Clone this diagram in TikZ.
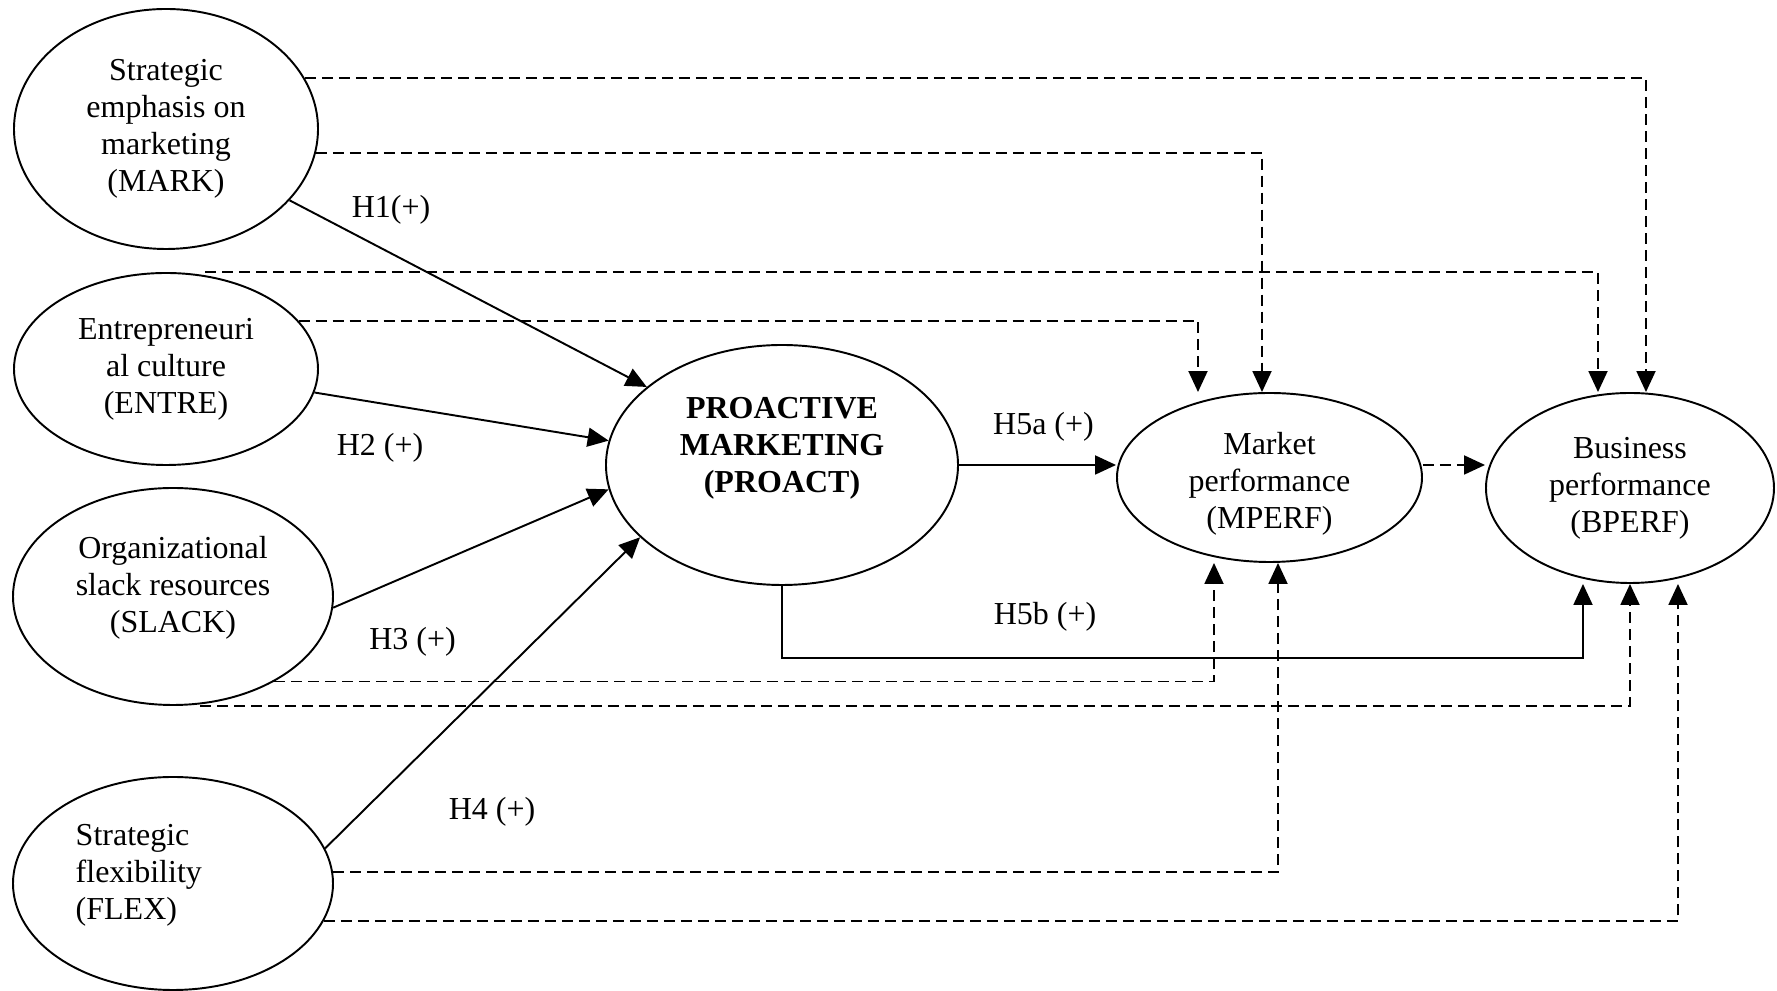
\documentclass[tikz,border=0pt]{standalone}
\usepackage{fontspec}
\setmainfont{Liberation Serif}
\usetikzlibrary{arrows.meta, shapes.geometric}

\begin{document}
\begin{tikzpicture} [construct/.style = {draw, ellipse, line width=0.55pt, inner sep=0pt},
        caption/.style = {inner sep=0pt, align=center, font=\fontsize{9.1}{10.5}\selectfont},
        hyp/.style = {-{Triangle[length=0.21cm, width=0.19cm]}, line width=0.55pt},
        ctl/.style = {hyp, dash pattern=on 0.11cm off 0.06cm}]
        \useasboundingbox (0,0) rectangle (17.77,-9.91);

        \node (mark) [construct, minimum width=3.04cm, minimum height=2.40cm] at (1.66,-1.29) {};
        \node (entre) [construct, minimum width=3.04cm, minimum height=1.92cm] at (1.66,-3.69) {};
        \node (slack) [construct, minimum width=3.20cm, minimum height=2.17cm] at (1.73,-5.965) {};
        \node (flex) [construct, minimum width=3.20cm, minimum height=2.13cm] at (1.73,-8.835) {};
        \node (proact) [construct, minimum width=3.52cm, minimum height=2.40cm] at (7.82,-4.65) {};
        \node (mperf) [construct, minimum width=3.05cm, minimum height=1.69cm] at (12.695,-4.775) {};
        \node (bperf) [construct, minimum width=2.88cm, minimum height=1.90cm] at (16.30,-4.88) {};

        \node (markt) [caption] at (mark) {Strategic\\emphasis on\\marketing\\(MARK)};
        \node (entret) [caption] at (entre) {Entrepreneuri\\al culture\\(ENTRE)};
        \node (slackt) [caption] at ([yshift=0.09cm]slack) {Organizational\\slack resources\\(SLACK)};
        \node (flext) [caption, align=left, anchor=west] at ([xshift=0.63cm, yshift=0.08cm]flex.west) {Strategic\\flexibility\\(FLEX)};
        \node (proactt) [caption, font=\fontsize{9.1}{10.5}\selectfont\bfseries] at ([yshift=0.17cm]proact) {PROACTIVE\\MARKETING\\(PROACT)};
        \node (mperft) [caption] at ([yshift=-0.065cm]mperf) {Market\\performance\\(MPERF)};
        \node (bperft) [caption] at (bperf) {Business\\performance\\(BPERF)};

        \node (h1) [caption] at (3.91,-2.10) {H1(+)};
        \node (h2) [caption] at (3.80,-4.475) {H2 (+)};
        \node (h3) [caption] at (4.125,-6.415) {H3 (+)};
        \node (h4) [caption] at (4.92,-8.12) {H4 (+)};
        \node (h5a) [caption] at (10.435,-4.265) {H5a (+)};
        \node (h5b) [caption] at (10.45,-6.165) {H5b (+)};

        \draw [hyp] (mark.-30) -- (proact.150);
        \draw [hyp] (entre.-9) -- (proact.172);
        \draw [hyp] (slack.-4) -- (proact.188);
        \draw [hyp] (flex.13) -- (proact.207);
        \draw [hyp] (proact.east) -- (proact.east -| mperf.west);
        \draw [hyp] (proact.south) -- ++(0,-0.72) -| ([xshift=-0.47cm]bperf.south);

        \draw [ctl] (mark.20) -| ([xshift=0.16cm]bperf.north);
        \draw [ctl] (mark.-9) -| ([xshift=-0.075cm]mperf.north);
        \draw [ctl] ([xshift=0.39cm]entre.north) -| ([xshift=-0.32cm]bperf.north);
        \draw [ctl] (entre.20) -| ([xshift=-0.715cm]mperf.north);
        \draw [ctl] (slack.-40) -| ([xshift=-0.555cm]mperf.south);
        \draw [ctl] ([xshift=0.27cm]slack.south) -| (bperf.south);
        \draw [ctl] (flex.4) -| ([xshift=0.085cm]mperf.south);
        \draw [ctl] (flex.-14) -| ([xshift=0.48cm]bperf.south);
        \draw [ctl] (mperf.east |- proact.east) -- (bperf.west |- proact.east);
    \end{tikzpicture}
\end{document}
